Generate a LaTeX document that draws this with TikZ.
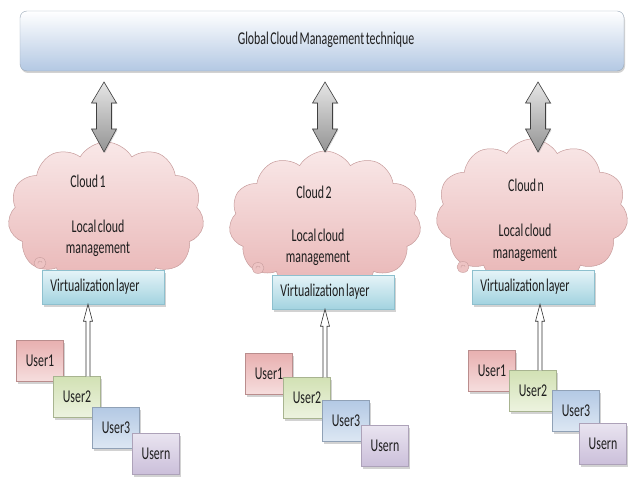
\documentclass[tikz,border=0pt]{standalone}
\usepackage{fontspec}
\setmainfont{Carlito}[FakeStretch=0.66, WordSpace=0.55]
\usetikzlibrary{shapes.symbols,shadows,calc}
\definecolor{barblue}{HTML}{B3C8E3}
\definecolor{barline}{HTML}{9AA8B8}
\definecolor{cloudtop}{HTML}{F9E8E8}
\definecolor{cloudbot}{HTML}{E8B4B4}
\definecolor{cloudline}{HTML}{C79C9C}
\definecolor{virttop}{HTML}{E6F4F8}
\definecolor{virtbot}{HTML}{A3D3E0}
\definecolor{virtline}{HTML}{8EC0CE}
\definecolor{uonetop}{HTML}{E8B0B0}
\definecolor{uonebot}{HTML}{F6DEDE}
\definecolor{utwotop}{HTML}{D2E1B4}
\definecolor{utwobot}{HTML}{EDF3E0}
\definecolor{uthrtop}{HTML}{B4C9E4}
\definecolor{uthrbot}{HTML}{DDE7F3}
\definecolor{untop}{HTML}{E9E4F0}
\definecolor{unbot}{HTML}{CBBFDA}
\definecolor{txt}{HTML}{1E1E1E}
\newcommand\hollowarr[2]{%
  \draw[draw=black!80, fill=white, line width=0.6pt, line join=miter]
    ($(#1)+(-2,0)$) -- ($(#2)+(-2,17)$) -- ($(#2)+(-4.5,17)$) -- (#2)
    -- ($(#2)+(4.5,17)$) -- ($(#2)+(2,17)$) -- ($(#1)+(2,0)$);}
\newcommand\bigdbl[1]{%
  \draw[dblarrow] ($(#1)+(0,-35)$) -- ($(#1)+(12.5,-14)$) -- ($(#1)+(7.5,-14)$)
    -- ($(#1)+(7.5,12)$) -- ($(#1)+(12.5,12)$) -- ($(#1)+(0,35)$)
    -- ($(#1)+(-12.5,12)$) -- ($(#1)+(-7.5,12)$) -- ($(#1)+(-7.5,-14)$)
    -- ($(#1)+(-12.5,-14)$) -- cycle;}
\newcommand\curl[1]{%
  \draw[cloudline, fill=cloudbot!80] (#1) ellipse [x radius=6pt, y radius=5.5pt];
  \draw[cloudline] ($(#1)+(-2,1)$) arc [start angle=200, end angle=20, radius=2.2pt];}
\begin{document}
\begin{tikzpicture}[x=1pt,y=-1pt, every node/.style={text=txt, font=\fontsize{18}{20}\selectfont},
  bar/.style={draw=barline, rounded corners=7pt, top color=white, bottom color=barblue,
    minimum width=604pt, minimum height=60pt, inner sep=0pt,
    drop shadow={shadow xshift=1pt, shadow yshift=-2pt, opacity=0.35}},
  dblarrow/.style={draw=black!75, line width=0.6pt, line join=miter,
    top color=black!10, bottom color=black!42,
    drop shadow={shadow xshift=1pt, shadow yshift=-1pt, opacity=0.3}},
  cloudshape/.style={cloud, cloud puffs=11, cloud puff arc=120, cloud ignores aspect,
    draw=cloudline, line width=0.5pt, top color=cloudtop, bottom color=cloudbot, inner sep=0pt},
  virt/.style={draw=virtline, top color=virttop, bottom color=virtbot, minimum height=34pt,
    minimum width=122pt, inner sep=2pt,
    drop shadow={shadow xshift=1.5pt, shadow yshift=-2.5pt, opacity=0.35}},
  userbox/.style={minimum width=47pt, minimum height=41pt, inner sep=0pt,
    drop shadow={shadow xshift=1.5pt, shadow yshift=-2.5pt, opacity=0.35}},
  uone/.style={userbox, draw=uonetop!80!black, top color=uonetop, bottom color=uonebot},
  utwo/.style={userbox, draw=utwotop!80!black, top color=utwotop, bottom color=utwobot},
  uthr/.style={userbox, draw=uthrtop!80!black, top color=uthrtop, bottom color=uthrbot},
  un/.style={userbox, draw=unbot!85!black, top color=untop, bottom color=unbot}]
\useasboundingbox (0,0) rectangle (628,489);
\fill[white] (0,0) rectangle (628,489);

% global bar
\node[bar] (g) at (322,41) {};
\node (gt) at (326,40) {Global Cloud Management technique};

% clouds
\node[cloudshape, minimum width=196pt, minimum height=148pt] (c1) at (106,216) {};
\node[cloudshape, minimum width=192pt, minimum height=142pt] (c2) at (325,222) {};
\node[cloudshape, minimum width=192pt, minimum height=148pt] (c3) at (532,213) {};
\curl{40,263}
\curl{258,268}
\curl{463,267}

% double arrows between the global bar and each cloud
\coordinate (d1) at (104,117);
\coordinate (d2) at (325,117);
\coordinate (d3) at (538,117);
\bigdbl{d1}
\bigdbl{d2}
\bigdbl{d3}

% cloud texts
\node (c1a) at (88,181) {Cloud 1};
\node (c1b) at (98,226) {Local cloud};
\node (c1c) at (98,249) {management};
\node (c2a) at (314,192) {Cloud 2};
\node (c2b) at (318,235) {Local cloud};
\node (c2c) at (318,258) {management};
\node (c3a) at (526,185) {Cloud n};
\node (c3b) at (525,230) {Local cloud};
\node (c3c) at (525,254) {management};

% virtualization layers
\node[virt] (v1) at (103,287) {Virtualization layer\kern16pt};
\node[virt] (v2) at (333,292) {Virtualization layer\kern16pt};
\node[virt] (v3) at (533,287) {Virtualization layer\kern16pt};

% users
\node[uone] (u11) at (40,361) {User1};
\node[utwo] (u12) at (77,397) {User2};
\node[uthr] (u13) at (116,428) {User3};
\node[un]   (u14) at (156,454) {Usern};
\node[uone] (u21) at (269,374) {User1};
\node[utwo] (u22) at (307,398) {User2};
\node[uthr] (u23) at (346,421) {User3};
\node[un]   (u24) at (385,446) {Usern};
\node[uone] (u31) at (492,371) {User1};
\node[utwo] (u32) at (533,391) {User2};
\node[uthr] (u33) at (576,411) {User3};
\node[un]   (u34) at (603,444) {Usern};

% hollow arrows
\coordinate (a1b) at ([xshift=11pt]u12.north);
\coordinate (a1t) at (a1b |- v1.south);
\coordinate (a2b) at ([xshift=18pt]u22.north);
\coordinate (a2t) at (a2b |- v2.south);
\coordinate (a3b) at ([xshift=7pt]u32.north);
\coordinate (a3t) at (a3b |- v3.south);
\hollowarr{a1b}{a1t}
\hollowarr{a2b}{a2t}
\hollowarr{a3b}{a3t}
\end{tikzpicture}
\end{document}
